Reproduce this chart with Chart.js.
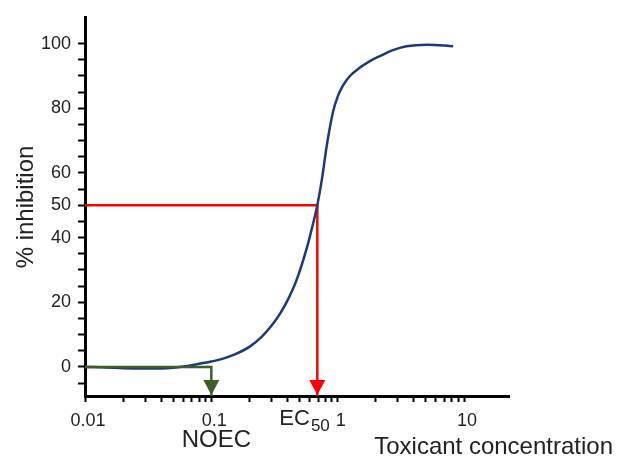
<!DOCTYPE html>
<html lang="en">
<head>
    <meta charset="UTF-8">
    <title>Dose-response curve</title>
    <style>
        body { margin: 0; background: #fff; }
        .chart-container { width: 619px; height: 457px; }
    </style>
</head>
<body>
    <div class="chart-container">
        <canvas id="doseChart"></canvas>
    </div>

    <script src="https://cdn.jsdelivr.net/npm/chart.js"></script>
    <script>
        // Concentration (log axis) and % inhibition of the fitted curve
        const concentrations = [0.01, 0.015, 0.02, 0.03, 0.04, 0.05, 0.06, 0.08, 0.1, 0.12, 0.15, 0.2, 0.25, 0.3, 0.35, 0.4, 0.47, 0.57, 0.64, 0.69, 0.75, 0.82, 0.92, 1.0, 1.1, 1.25, 1.5, 1.8, 2.2, 2.7, 3.5, 5.1, 8.2];
        const inhibition = [0, -0.2, -0.4, -0.5, -0.5, -0.3, 0.1, 1.0, 1.7, 2.4, 3.7, 6.2, 9.3, 12.8, 16.5, 20.5, 26.6, 36.8, 44.5, 50, 58, 68.5, 79, 83.6, 87, 90, 92.6, 94.6, 96.3, 97.9, 99.2, 99.7, 99.2];

        // Marked thresholds
        const NOEC = 0.1;
        const EC50 = 0.69;

        // Axis settings
        const xDecades = [0.01, 0.1, 1, 10];
        const yLabelled = [0, 20, 40, 50, 60, 80, 100];
        const yMinorStep = 5;
        const xRange = [0.01, 22.7];
        const yRange = [-9, 108];

        const curvePoints = concentrations.map((c, i) => ({ x: c, y: inhibition[i] }));

        // Draws arrowheads and the text around the axes
        const labelsPlugin = {
            id: 'labels',
            afterDraw(chart) {
                const ctx = chart.ctx;
                const xs = chart.scales.x;
                const area = chart.chartArea;

                function arrowDown(x, color) {
                    ctx.save();
                    ctx.fillStyle = color;
                    ctx.beginPath();
                    ctx.moveTo(x, area.bottom - 1);
                    ctx.lineTo(x - 8, area.bottom - 16);
                    ctx.lineTo(x + 8, area.bottom - 16);
                    ctx.closePath();
                    ctx.fill();
                    ctx.restore();
                }
                const xNoec = xs.getPixelForValue(NOEC);
                const xEc = xs.getPixelForValue(EC50);
                arrowDown(xNoec, '#3b5e2b');
                arrowDown(xEc, '#ff0000');

                ctx.save();
                ctx.fillStyle = '#222';
                ctx.textBaseline = 'alphabetic';

                // y title
                ctx.save();
                ctx.translate(33, 207);
                ctx.rotate(-Math.PI / 2);
                ctx.font = '24px "Liberation Sans", Arial, sans-serif';
                ctx.textAlign = 'center';
                ctx.fillText('% inhibition', 0, 0);
                ctx.restore();

                // x title
                ctx.font = '24px "Liberation Sans", Arial, sans-serif';
                ctx.textAlign = 'right';
                ctx.fillText('Toxicant concentration', 613, 454);

                // NOEC
                ctx.textAlign = 'center';
                ctx.fillText('NOEC', xNoec + 5, 447);

                // EC50 with subscript
                ctx.textAlign = 'left';
                ctx.font = '22px "Liberation Sans", Arial, sans-serif';
                ctx.fillText('EC', xEc - 38, 425);
                const ecW = ctx.measureText('EC').width;
                ctx.font = '17px "Liberation Sans", Arial, sans-serif';
                ctx.fillText('50', xEc - 38 + ecW + 1, 431);
                ctx.restore();
            }
        };

        const ctx = document.getElementById('doseChart').getContext('2d');
        new Chart(ctx, {
            type: 'line',
            data: {
                datasets: [
                    {
                        label: 'NOEC',
                        data: [{ x: xRange[0], y: 0 }, { x: NOEC, y: 0 }, { x: NOEC, y: yRange[0] }],
                        borderColor: '#3b5e2b',
                        borderWidth: 2.5,
                        pointRadius: 0,
                        tension: 0
                    },
                    {
                        label: 'Inhibition',
                        data: curvePoints,
                        borderColor: '#1b3a78',
                        borderWidth: 2.5,
                        pointRadius: 0,
                        cubicInterpolationMode: 'monotone'
                    },
                    {
                        label: 'EC50',
                        data: [{ x: xRange[0], y: 50 }, { x: EC50, y: 50 }, { x: EC50, y: yRange[0] }],
                        borderColor: '#ff0000',
                        borderWidth: 2.5,
                        pointRadius: 0,
                        tension: 0
                    }
                ]
            },
            options: {
                responsive: true,
                maintainAspectRatio: false,
                animation: false,
                layout: {
                    padding: { top: 14, right: 110, left: 0, bottom: 0 }
                },
                plugins: {
                    legend: { display: false },
                    tooltip: { enabled: false }
                },
                scales: {
                    x: {
                        type: 'logarithmic',
                        min: xRange[0],
                        max: xRange[1],
                        afterFit: scale => { scale.height = 61; },
                        afterBuildTicks: scale => {
                            const ticks = [];
                            xDecades.forEach(d => {
                                for (let m = 1; m <= 9; m++) {
                                    if (d === 10 && m > 1) break;
                                    ticks.push({ value: +(d * m).toPrecision(3) });
                                }
                            });
                            scale.ticks = ticks;
                        },
                        border: { display: true, color: '#000', width: 3 },
                        grid: {
                            drawOnChartArea: false,
                            drawTicks: true,
                            tickLength: 6,
                            tickColor: '#000',
                            tickWidth: 2
                        },
                        ticks: {
                            autoSkip: false,
                            maxRotation: 0,
                            padding: 8,
                            labelOffset: 3,
                            color: '#222',
                            font: { family: '"Liberation Sans", Arial, sans-serif', size: 18 },
                            callback: function (value) {
                                return xDecades.includes(value) ? String(value) : '';
                            }
                        }
                    },
                    y: {
                        min: yRange[0],
                        max: yRange[1],
                        afterFit: scale => { scale.width = 85; },
                        afterBuildTicks: scale => {
                            const ticks = [];
                            for (let v = -yMinorStep; v <= 100; v += yMinorStep) ticks.push({ value: v });
                            scale.ticks = ticks;
                        },
                        border: { display: true, color: '#000', width: 3 },
                        grid: {
                            drawOnChartArea: false,
                            drawTicks: true,
                            tickLength: 7,
                            tickColor: '#000',
                            tickWidth: 2
                        },
                        ticks: {
                            autoSkip: false,
                            padding: 7,
                            color: '#222',
                            font: { family: '"Liberation Sans", Arial, sans-serif', size: 18 },
                            callback: function (value) {
                                return yLabelled.includes(value) ? String(value) : '';
                            }
                        }
                    }
                }
            },
            plugins: [labelsPlugin]
        });
    </script>
</body>
</html>
